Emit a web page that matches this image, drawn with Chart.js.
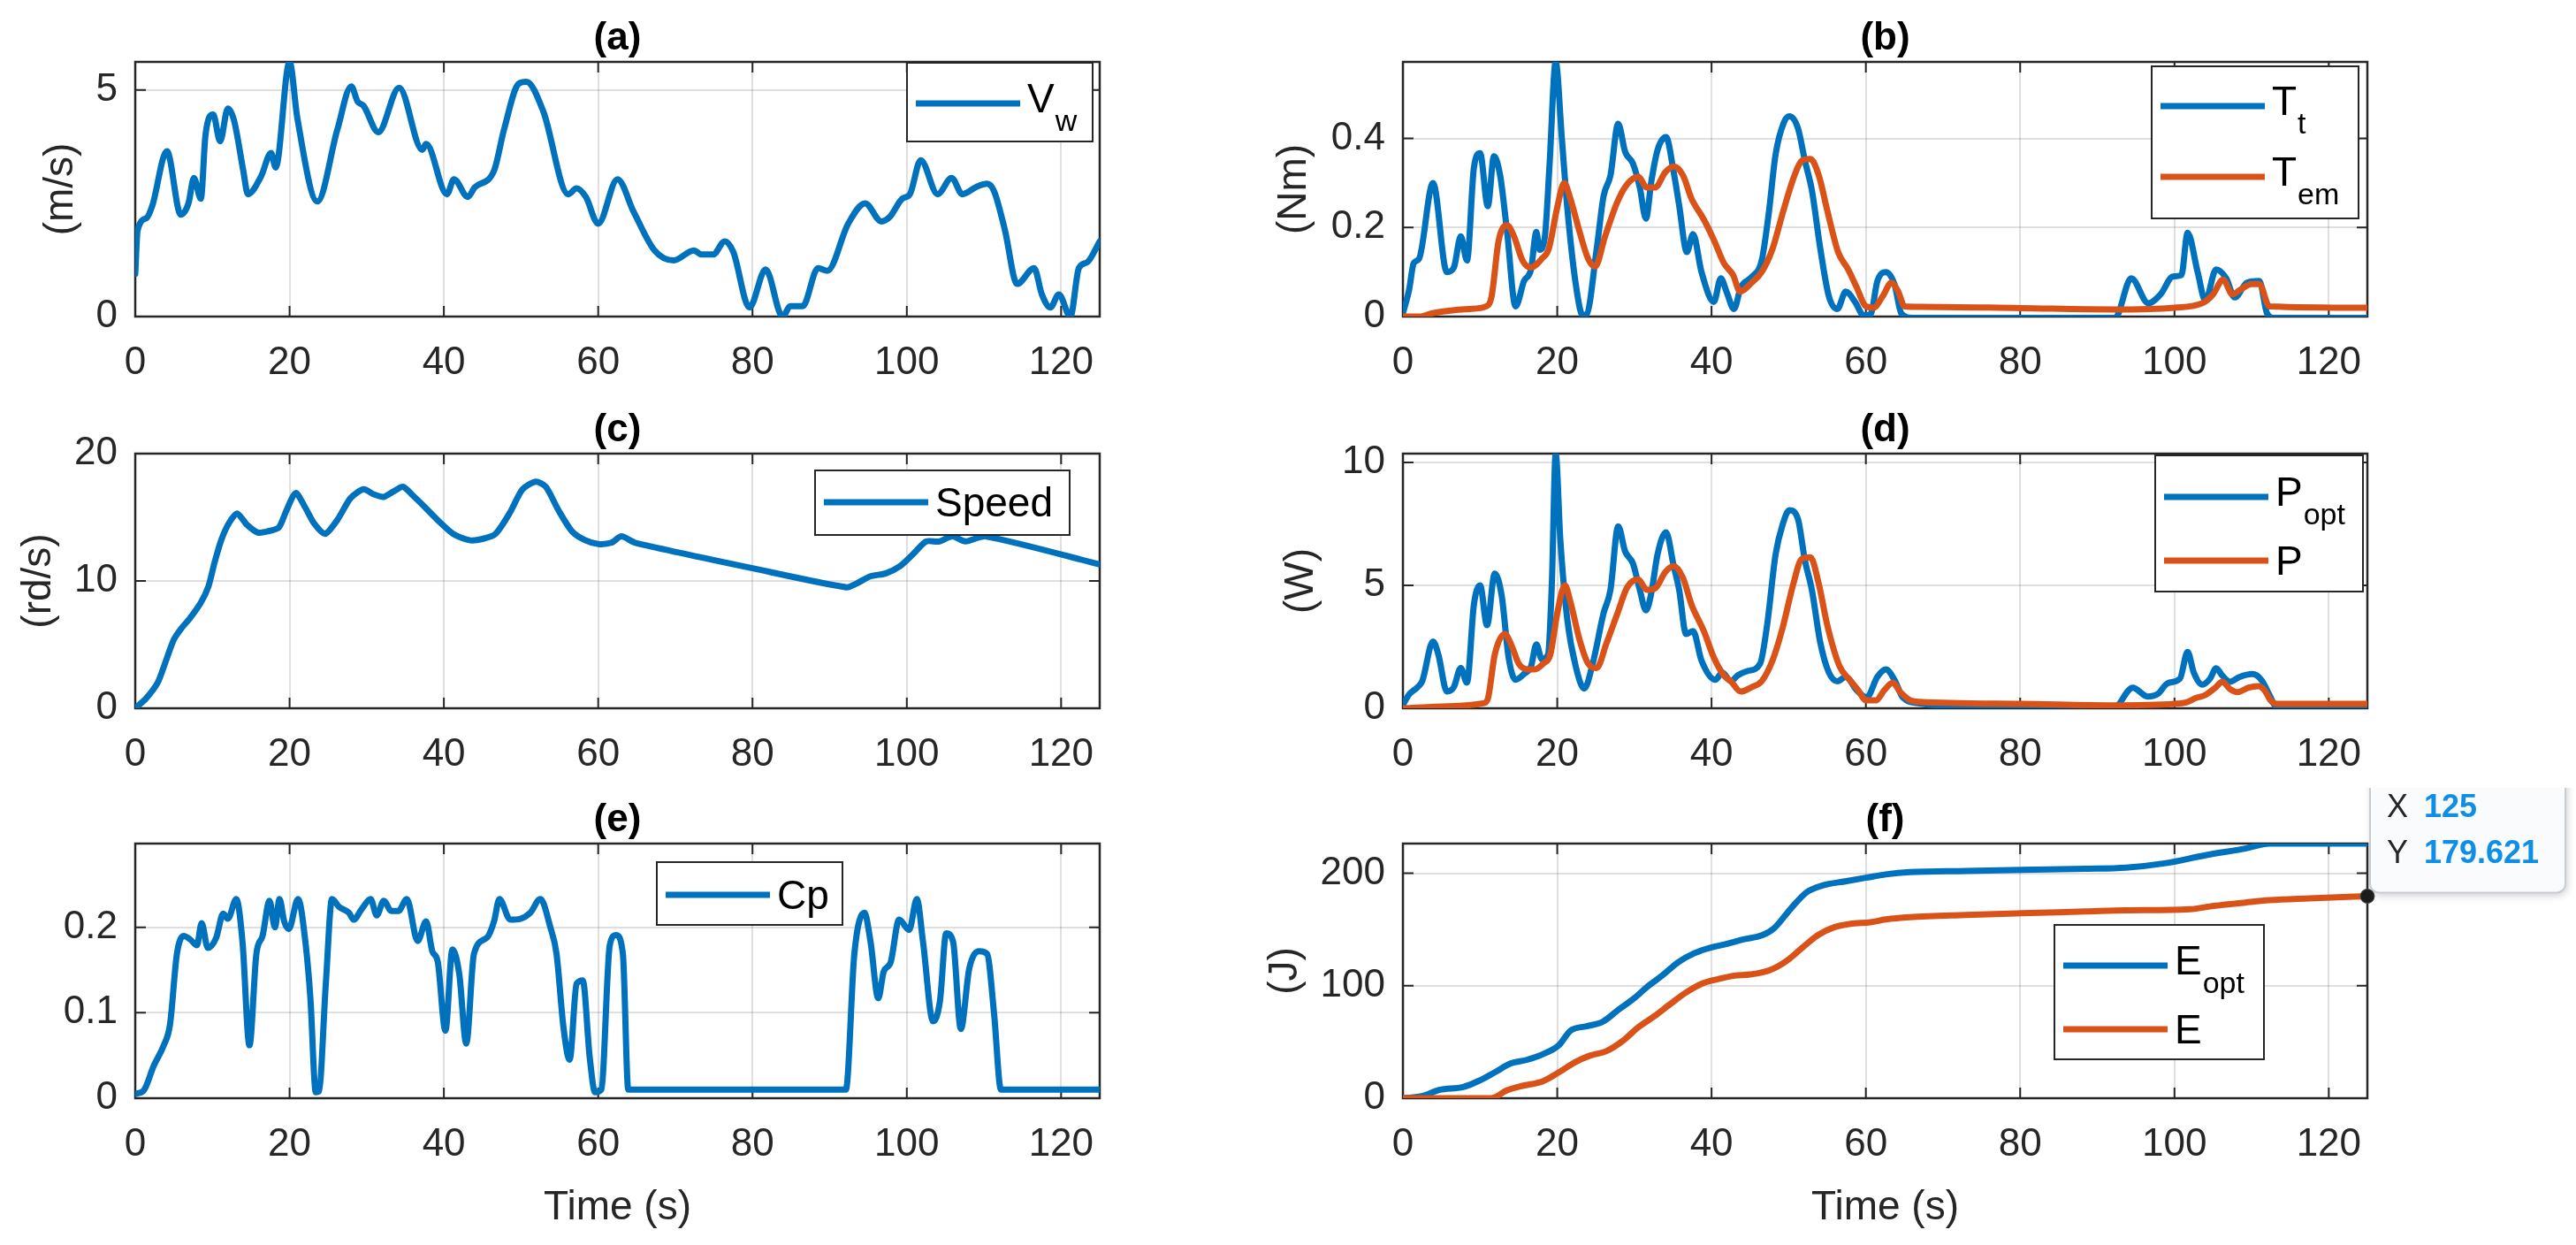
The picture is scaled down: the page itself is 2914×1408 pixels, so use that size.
<!DOCTYPE html>
<html><head><meta charset="utf-8">
<script src="https://cdn.jsdelivr.net/npm/chart.js@4.4.1/dist/chart.umd.min.js"></script>
<style>
html,body{margin:0;padding:0;background:#fff;}
#fig{position:relative;width:2914px;height:1408px;overflow:hidden;background:#fff;}
#fig canvas{position:absolute;}
</style></head><body><div id="fig"></div>
<script>
// ---------------- data ----------------
const xTickValues = [0, 20, 40, 60, 80, 100, 120];
const xMax = 125;

const timeVw = [0,0.3,1.5,2.2,4.1,5.9,6.9,7.6,8.5,9.1,10.1,11.0,12.0,12.8,14.0,14.6,16.3,17.6,18.2,20.0,21.0,23.6,26.2,28.0,28.8,29.6,31.5,34.2,37.2,37.7,40.4,41.3,43.1,44.0,46.5,47.8,49.7,50.7,52.9,56.1,57.2,58.4,60.0,62.5,64.6,67.3,69.8,72.4,73.4,74.9,76.4,77.5,79.6,81.7,83.9,84.9,86.5,88.5,89.7,92.4,94.6,96.7,97.8,99.4,100.4,101.8,104.0,105.8,107.2,109.0,110.4,111.3,112.7,114.3,116.5,117.5,118.6,119.7,121.2,122.3,123.4,125];
const windSpeed = [0.94,1.9,2.18,2.44,3.65,2.25,2.5,3.06,2.6,4.0,4.46,3.87,4.59,4.33,3.22,2.70,3.09,3.61,3.29,5.62,4.39,2.54,4.13,5.08,4.75,4.65,4.07,5.05,3.68,3.81,2.70,3.03,2.64,2.85,3.22,4.13,5.14,5.18,4.52,2.70,2.83,2.64,2.05,3.03,2.31,1.46,1.24,1.46,1.37,1.37,1.66,1.43,0.2,1.04,0.0,0.23,0.23,1.07,1.01,2.05,2.5,2.1,2.2,2.6,2.7,3.45,2.70,3.06,2.70,2.86,2.93,2.77,1.92,0.72,1.07,0.49,0.2,0.49,0.0,1.07,1.2,1.66];
const vwTicks = [0, 5];
const vwMax = 5.62;

const timeTt = [0,0.8,1.4,2.1,3.9,5.7,6.6,7.5,8.3,9.2,10.0,11.0,11.8,12.6,13.5,14.6,15.7,16.6,17.3,17.7,18.4,19.0,19.8,20.6,21.3,22.4,23.3,23.8,25.1,26.0,26.9,27.9,28.8,29.8,30.7,31.5,32.2,33.0,34.1,35.1,35.8,36.8,37.6,38.7,40.3,41.2,42.0,42.9,43.8,45.2,46.5,47.4,48.3,49.4,50.1,51.2,52.1,53.0,54.1,55.2,56.3,57.4,58.6,59.7,60.6,61.5,62.6,63.7,64.6,66,92.3,94.4,96.6,98.2,99.8,100.9,101.7,103,104,105.4,106.7,107.8,109.4,111,112,113,125];
const turbineTorque = [0.007,0.06,0.12,0.13,0.30,0.10,0.11,0.18,0.126,0.334,0.367,0.248,0.36,0.317,0.19,0.023,0.08,0.106,0.19,0.15,0.18,0.34,0.572,0.40,0.245,0.073,0.003,0.005,0.15,0.27,0.317,0.433,0.37,0.344,0.29,0.22,0.304,0.374,0.403,0.324,0.25,0.145,0.185,0.10,0.033,0.086,0.053,0.017,0.066,0.089,0.126,0.23,0.364,0.437,0.45,0.423,0.35,0.284,0.152,0.046,0.017,0.056,0.033,0.003,0.005,0.08,0.10,0.073,0.007,-0.003,-0.003,0.086,0.03,0.05,0.09,0.093,0.188,0.1,0.036,0.106,0.086,0.043,0.076,0.08,0.007,-0.003,-0.003];
const timeTem = [0,2.3,3.7,5.9,8.6,10.8,11.5,12.4,13.5,14.4,15.5,16.6,18.0,18.9,20.0,20.9,21.7,22.9,24.0,24.9,26.2,27.8,29.1,30.5,31.6,32.7,34.0,35.1,36.3,37.4,39.0,40.3,41.6,42.8,43.7,45.2,46.5,47.9,49.2,50.6,51.7,52.8,53.9,55.0,56.4,57.7,58.8,60.0,61.0,62.2,63.3,64.2,65.0,67,80,92,100,103.6,105,106.3,107.5,108.5,110,111,112.3,125];
const emTorque = [0,0,0.007,0.013,0.017,0.023,0.046,0.17,0.205,0.18,0.126,0.11,0.13,0.152,0.245,0.30,0.265,0.19,0.13,0.112,0.18,0.258,0.298,0.314,0.29,0.29,0.324,0.337,0.317,0.265,0.218,0.172,0.12,0.093,0.056,0.076,0.1,0.152,0.231,0.31,0.35,0.354,0.317,0.238,0.145,0.106,0.066,0.023,0.02,0.046,0.076,0.056,0.023,0.022,0.019,0.016,0.02,0.03,0.05,0.083,0.05,0.06,0.073,0.073,0.023,0.02];
const torqueTicks = [0, 0.2, 0.4];
const torqueMax = 0.572;

const timeSpeed = [0,1.4,2.9,3.9,5.0,6.0,7.0,8.5,9.5,10.3,11.2,12.2,13.2,14.5,15.9,17.2,18.6,19.5,20.8,22.0,23.2,24.6,26.2,27.9,29.6,30.9,32.2,33.4,34.7,36.0,37.7,39.5,41.2,43.3,45.0,46.7,48.5,50.2,51.9,53.2,54.9,56.6,58.3,60.0,61.7,63.0,64.8,80.0,92.2,93.5,95.2,97.3,99.1,100.8,102.5,104.2,105.9,107.6,110.2,125];
const rotorSpeed = [0,0.77,2.0,3.6,5.4,6.3,7.0,8.3,9.6,11.5,13.3,14.6,15.3,14.4,13.8,13.9,14.2,15.4,16.9,15.8,14.5,13.7,14.8,16.5,17.2,16.8,16.6,17.0,17.4,16.7,15.7,14.6,13.7,13.2,13.3,13.7,15.3,17.2,17.8,17.4,15.5,13.9,13.2,12.9,13.0,13.5,13.0,11.0,9.5,9.8,10.35,10.6,11.15,12.1,13.1,13.1,13.5,13.1,13.5,11.3];
const speedTicks = [0, 10, 20];
const speedMax = 20;

const timePopt = [0,0.8,1.9,2.5,3.9,4.6,5.7,6.6,7.5,8.3,9.2,10.0,10.9,11.9,12.8,13.7,14.6,15.7,16.6,17.3,18.0,18.8,19.3,19.8,20.4,21.3,22.4,23.5,24.6,26.0,26.9,27.9,28.8,29.8,30.7,31.5,32.2,33.0,34.1,35.1,35.8,36.7,37.6,38.7,40.5,41.4,42.5,43.4,44.7,46.3,47.2,48.3,49.2,50.1,51.2,52.1,53.0,54.1,55.2,56.3,57.4,58.8,60.1,61.5,62.6,63.7,64.8,67,75,80,92,94.6,96.5,97.9,99.1,100.7,101.7,102.5,103.6,104.6,105.4,106.2,107.2,108.4,110.1,111.3,112.3,113.1,114,125];
const powerOpt = [0.14,0.56,0.86,1.1,2.72,2.18,0.68,0.86,1.64,1.04,4.22,5.0,3.38,5.48,4.58,2.06,1.16,1.4,1.7,2.6,2.0,2.18,5.06,10.36,6.86,3.62,1.7,0.8,1.82,3.86,4.82,7.4,6.38,5.9,4.82,3.98,4.7,6.26,7.16,5.78,4.82,3.02,3.14,1.94,1.16,1.46,1.1,1.34,1.52,1.82,3.38,6.26,7.46,8.06,7.7,6.02,4.82,2.66,1.46,1.1,1.28,0.74,0.44,1.28,1.58,1.16,0.44,0.2,0.05,-0.05,-0.05,0.84,0.48,0.6,1.02,1.2,2.29,1.45,0.96,1.2,1.63,1.33,1.08,1.27,1.39,1.14,0.54,0.06,-0.05,-0.05];
const timeP = [0,5.9,10.4,11.0,11.9,13.2,14.1,15.0,16.2,17.1,18.2,19.1,20.0,21.0,21.7,22.9,24.0,25.1,26.4,27.8,29.1,30.5,31.6,32.7,34.0,35.1,36.3,37.4,39.0,40.3,41.6,42.5,43.8,45.2,46.5,47.9,49.2,50.6,51.7,52.8,53.9,55.0,56.6,57.9,59.0,60.0,61.3,62.4,63.5,64.4,65.8,67,80,92,100,101.5,102.8,104,105.3,106.2,107.2,108.2,109.6,110.9,111.7,112.5,113.3,125];
const power = [0,0.08,0.2,0.38,2.18,3.02,2.54,1.82,1.58,1.58,1.82,2.18,3.86,5.0,4.34,2.78,1.82,1.64,2.66,3.86,4.94,5.24,4.82,4.88,5.54,5.78,5.3,4.22,3.14,2.06,1.34,1.1,0.68,0.86,1.1,1.94,3.26,5.06,6.08,6.14,5.06,3.38,1.7,1.16,0.74,0.32,0.32,0.74,1.04,0.68,0.32,0.26,0.18,0.12,0.18,0.24,0.42,0.54,0.84,1.08,0.78,0.66,0.84,0.9,0.72,0.3,0.18,0.18];
const powerTicks = [0, 5, 10];
const powerMax = 10.36;

const timeCp = [0,1.1,2.4,3.7,4.5,5.4,6.3,7.1,8.0,8.6,9.4,10.5,11.4,12.0,13.1,13.9,14.8,15.7,16.5,17.4,18.1,18.7,19.3,19.9,21.1,22.1,22.7,23.4,23.8,24.7,25.5,26.4,27.7,28.3,29.4,30.5,31.3,32.2,33.2,34.1,35.2,36.6,37.7,38.5,39.2,40.2,41.1,42.0,42.9,43.9,45.6,46.5,47.2,48.6,49.9,51.2,52.5,53.8,54.6,55.5,56.3,57.2,58.0,58.9,59.6,60.4,61.5,62.3,63.2,63.9,92.1,93.2,94.5,95.3,96.3,97.0,97.9,99.0,100.3,101.3,102.1,103.4,104.3,105.1,106.0,107.0,108.1,109.4,110.4,111.3,112.2,125];
const powerCoef = [0.005,0.009,0.038,0.062,0.086,0.169,0.19,0.186,0.179,0.205,0.176,0.188,0.216,0.21,0.233,0.183,0.062,0.169,0.19,0.231,0.2,0.233,0.207,0.198,0.233,0.179,0.117,0.007,0.008,0.134,0.233,0.224,0.217,0.209,0.222,0.233,0.214,0.231,0.219,0.219,0.233,0.184,0.207,0.172,0.16,0.079,0.174,0.145,0.064,0.169,0.188,0.207,0.233,0.209,0.21,0.217,0.233,0.2,0.169,0.083,0.045,0.134,0.138,0.048,0.007,0.01,0.179,0.191,0.169,0.01,0.01,0.169,0.217,0.183,0.117,0.148,0.159,0.209,0.197,0.233,0.183,0.09,0.114,0.193,0.183,0.081,0.152,0.172,0.169,0.1,0.01,0.01];
const cpTicks = [0, 0.1, 0.2];
const cpMax = 0.298;

const timeEopt = [0,2.6,4.7,7.8,9.8,11.9,14.0,16.0,18.1,20.2,21.7,23.8,25.9,28.0,30.0,31.6,33.6,35.7,37.8,39.9,41.9,44.0,46.6,48.1,50.2,52.3,54.3,57.5,60.0,62.6,65.7,73.0,80.2,88.5,93.7,98.9,104.0,109.2,112.3,125];
const energyOpt = [0,2,7.4,10,15.3,23,31,34,39,47,60,64,68,79,89,98.7,109,121,129,134,137,141,145,151,168,183,189,193,196,199,201,202,203,204,205,209,216,222,226.4,226.4];
const timeE = [0,5.7,11.4,13.5,15.5,18.1,20.2,22.3,24.3,26.4,28.5,30.5,32.6,34.7,36.7,38.8,40.9,43.0,45.0,47.6,49.7,51.8,53.8,55.9,58.0,60.6,62.6,65.7,73.0,80.2,88.5,93.7,102,105.1,109.2,112.3,117.5,125];
const energy = [0,0,0,7,11,15,23,32,38,42,51,63,73,84,94,102,106,109,110,114,122,134,145,152,155,156.5,159,161,163,164.5,166,167,168,171,174,176,177.6,179.621];
const energyTicks = [0, 100, 200];
const energyMax = 226.4;

const tipX = 125;
const tipY = 179.621;

// ---------------- style / layout ----------------
const FONT = "'Liberation Sans', Arial, Helvetica, sans-serif";
const BLUE = '#0072BD', ORANGE = '#D95319';
const AX = '#262626';
const GRID = 'rgba(38,38,38,0.15)';
const LINE_W = 7;
const PLOT_W = 1091, PLOT_H = 288;
const TITLE_SIZE = 44, TITLE_H = TITLE_SIZE * 1.2, PAD_TOP = 63 - TITLE_H;

const pts = (xs, ys) => xs.map((x, i) => ({x, y: ys[i]}));

function seriesDS(label, xs, ys, color, order, smooth) {
  const ds = {label, data: pts(xs, ys), borderColor: color, backgroundColor: color,
    borderWidth: LINE_W, pointRadius: 0, fill: false,
    borderJoinStyle: 'round', borderCapStyle: 'round', order};
  if (smooth === 'spline') { ds.tension = 0.25; }
  else { ds.cubicInterpolationMode = 'monotone'; }
  return ds;
}

function drawLegend(chart, L) {
  const {ctx, chartArea: a} = chart;
  const bx = a.left + L.x, by = a.top + L.y;
  ctx.save();
  ctx.fillStyle = '#fff';
  ctx.fillRect(bx, by, L.w, L.h);
  ctx.strokeStyle = AX; ctx.lineWidth = 2;
  ctx.strokeRect(bx, by, L.w, L.h);
  L.rows.forEach((dy, i) => {
    const ds = chart.data.datasets[i];
    const ly = by + dy;
    ctx.strokeStyle = ds.borderColor; ctx.lineWidth = LINE_W; ctx.lineCap = 'butt';
    ctx.beginPath(); ctx.moveTo(bx + 10, ly); ctx.lineTo(bx + 128, ly); ctx.stroke();
    const parts = ds.label.split('_');
    ctx.fillStyle = '#000'; ctx.textAlign = 'left'; ctx.textBaseline = 'alphabetic';
    ctx.font = `46px ${FONT}`;
    const base = ly + (parts[1] ? 10 : 16);
    ctx.fillText(parts[0], bx + 136, base);
    if (parts[1]) {
      const w = ctx.measureText(parts[0]).width;
      ctx.font = `34px ${FONT}`;
      ctx.fillText(parts[1], bx + 137 + w, base + 21);
    }
  });
  ctx.restore();
}

function drawTip(chart, T) {
  const {ctx, scales: {x, y}} = chart;
  const px = x.getPixelForValue(tipX), py = y.getPixelForValue(tipY);
  const bx = px + T.dx, by = py + T.dy, w = T.w, h = T.h, r = 10;
  ctx.save();
  ctx.beginPath();
  ctx.moveTo(bx + r, by);
  ctx.arcTo(bx + w, by, bx + w, by + h, r);
  ctx.arcTo(bx + w, by + h, bx, by + h, r);
  ctx.arcTo(bx, by + h, bx, by, r);
  ctx.arcTo(bx, by, bx + w, by, r);
  ctx.closePath();
  ctx.shadowColor = 'rgba(0,0,0,0.2)'; ctx.shadowBlur = 10; ctx.shadowOffsetX = 2; ctx.shadowOffsetY = 3;
  ctx.fillStyle = '#fafbfd'; ctx.fill();
  ctx.shadowColor = 'transparent';
  ctx.strokeStyle = '#c9cdd3'; ctx.lineWidth = 2; ctx.stroke();
  ctx.textAlign = 'left'; ctx.textBaseline = 'middle';
  ctx.font = `36px ${FONT}`; ctx.fillStyle = AX;
  ctx.fillText('X', bx + 19, by + 46);
  ctx.fillText('Y', bx + 19, by + 98);
  ctx.font = `bold 36px ${FONT}`; ctx.fillStyle = '#0f8ee6';
  ctx.fillText(String(tipX), bx + 61, by + 46);
  ctx.fillText(String(tipY), bx + 61, by + 98);
  ctx.restore();
}

const decor = {
  id: 'decor',
  beforeDatasetsDraw(chart, args, o) {
    const {ctx, chartArea: a, scales: {x, y}} = chart;
    ctx.save();
    ctx.strokeStyle = AX; ctx.lineWidth = 2;
    ctx.beginPath();
    x.ticks.forEach(t => {
      const px = x.getPixelForValue(t.value);
      ctx.moveTo(px, a.bottom); ctx.lineTo(px, a.bottom - 12);
      ctx.moveTo(px, a.top); ctx.lineTo(px, a.top + 12);
    });
    y.ticks.forEach(t => {
      const py = y.getPixelForValue(t.value);
      ctx.moveTo(a.left, py); ctx.lineTo(a.left + 12, py);
      ctx.moveTo(a.right, py); ctx.lineTo(a.right - 12, py);
    });
    ctx.stroke();
    ctx.lineWidth = 2.5;
    ctx.strokeRect(a.left, a.top, a.right - a.left, a.bottom - a.top);
    ctx.restore();
    if (o.tip) drawTip(chart, o.tip);
  },
  afterDatasetsDraw(chart, args, o) {
    if (o.legend) drawLegend(chart, o.legend);
  }
};

const fig = document.getElementById('fig');

function makePanel(p) {
  const W = p.yW + PLOT_W + p.rightPad, H = 63 + PLOT_H + p.xH;
  const c = document.createElement('canvas');
  c.width = W; c.height = H;
  c.style.width = W + 'px'; c.style.height = H + 'px';
  c.style.left = (p.plotL - p.yW) + 'px';
  c.style.top = (p.plotT - 63) + 'px';
  fig.appendChild(c);
  new Chart(c, {
    type: 'line',
    data: {datasets: p.datasets},
    plugins: [decor],
    options: {
      responsive: false, animation: false, devicePixelRatio: 1, events: [],
      layout: {padding: {top: PAD_TOP, left: 0, right: p.rightPad, bottom: 0}},
      plugins: {
        legend: {display: false}, tooltip: {enabled: false},
        title: {display: true, text: p.title, fullSize: false, color: '#000',
          font: {family: FONT, size: TITLE_SIZE, weight: 'bold', lineHeight: 1.2}, padding: 0},
        decor: {legend: p.legend, tip: p.tip}
      },
      scales: {
        x: {type: 'linear', min: 0, max: xMax,
          afterBuildTicks: s => { s.ticks = xTickValues.map(v => ({value: v})); },
          afterFit: s => { s.height = p.xH; },
          grid: {color: GRID, lineWidth: 2, drawTicks: false}, border: {display: false},
          ticks: {padding: 26, color: AX, font: {family: FONT, size: 44}, maxRotation: 0, autoSkip: false},
          title: {display: !!p.xTitle, text: p.xTitle || '', color: AX, font: {family: FONT, size: 46}, padding: 0}},
        y: {type: 'linear', min: 0, max: p.yMax,
          afterBuildTicks: s => { s.ticks = p.yTicks.map(v => ({value: v})); },
          afterFit: s => { s.width = p.yW; },
          grid: {color: GRID, lineWidth: 2, drawTicks: false}, border: {display: false},
          ticks: {padding: 20, color: AX, font: {family: FONT, size: 44}, autoSkip: false},
          title: {display: !!p.yTitle, text: p.yTitle || '', color: AX, font: {family: FONT, size: 46}, padding: 0}}
      }
    }
  });
}

makePanel({title: '(a)', plotL: 153, plotT: 70, yW: 111, rightPad: 30, xH: 90,
  yTitle: '(m/s)', yMax: vwMax, yTicks: vwTicks,
  datasets: [seriesDS('V_w', timeVw, windSpeed, BLUE, 1)],
  legend: {x: 873, y: 1, w: 210, h: 89, rows: [46]}});

makePanel({title: '(b)', plotL: 1587, plotT: 70, yW: 150, rightPad: 30, xH: 90,
  yTitle: '(Nm)', yMax: torqueMax, yTicks: torqueTicks,
  datasets: [seriesDS('T_t', timeTt, turbineTorque, BLUE, 1), seriesDS('T_em', timeTem, emTorque, ORANGE, 0)],
  legend: {x: 847, y: 5, w: 234, h: 172, rows: [45, 125]}});

makePanel({title: '(c)', plotL: 153, plotT: 513, yW: 136, rightPad: 30, xH: 90,
  yTitle: '(rd/s)', yMax: speedMax, yTicks: speedTicks,
  datasets: [seriesDS('Speed', timeSpeed, rotorSpeed, BLUE, 1, 'spline')],
  legend: {x: 769, y: 19, w: 288, h: 73, rows: [36]}});

makePanel({title: '(d)', plotL: 1587, plotT: 513, yW: 142, rightPad: 30, xH: 90,
  yTitle: '(W)', yMax: powerMax, yTicks: powerTicks,
  datasets: [seriesDS('P_opt', timePopt, powerOpt, BLUE, 1), seriesDS('P', timeP, power, ORANGE, 0)],
  legend: {x: 851, y: 2, w: 235, h: 154, rows: [47, 119]}});

makePanel({title: '(e)', plotL: 153, plotT: 954, yW: 153, rightPad: 30, xH: 152,
  xTitle: 'Time (s)', yMax: cpMax, yTicks: cpTicks,
  datasets: [seriesDS('Cp', timeCp, powerCoef, BLUE, 1)],
  legend: {x: 590, y: 21, w: 210, h: 71, rows: [37]}});

makePanel({title: '(f)', plotL: 1587, plotT: 954, yW: 160, rightPad: 236, xH: 152,
  xTitle: 'Time (s)', yTitle: '(J)', yMax: energyMax, yTicks: energyTicks,
  datasets: [seriesDS('E_opt', timeEopt, energyOpt, BLUE, 1), seriesDS('E', timeE, energy, ORANGE, 0),
    {label: 'datatip', data: [{x: tipX, y: tipY}], showLine: false, pointRadius: 8,
     pointBackgroundColor: '#1c1c1c', pointBorderColor: '#4a4a4a', pointBorderWidth: 1, clip: false, order: -1}],
  legend: {x: 737, y: 92, w: 237, h: 152, rows: [46, 118]},
  tip: {dx: 3, dy: -145, w: 221, h: 141}});
</script>
</body></html>
